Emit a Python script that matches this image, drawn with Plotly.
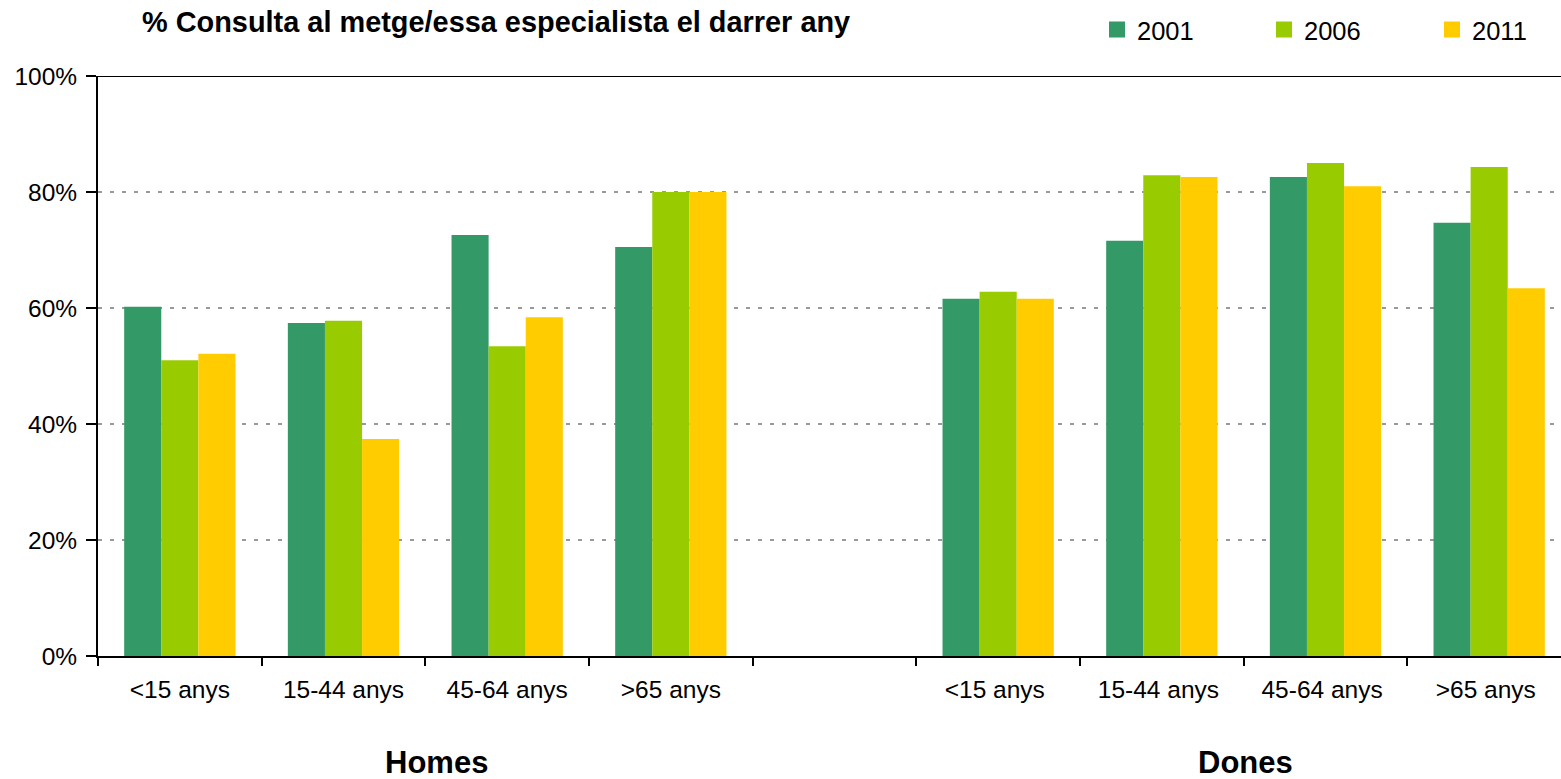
import plotly.graph_objects as go

categories = ["<15 anys", "15-44 anys", "45-64 anys", ">65 anys", " ",
              "<15 anys ", "15-44 anys ", "45-64 anys ", ">65 anys "]
years = ["2001", "2006", "2011"]
v2001 = [60.2, 57.4, 72.6, 70.5, None, 61.6, 71.6, 82.6, 74.7]
v2006 = [51.0, 57.8, 53.4, 80.0, None, 62.8, 82.9, 85.0, 84.3]
v2011 = [52.1, 37.4, 58.4, 80.0, None, 61.6, 82.6, 81.0, 63.4]
colors = ["#339966", "#99CC00", "#FFCC00"]
groups = ["Homes", "Dones"]
group_pos = [1.57, 6.51]
title = "% Consulta al metge/essa especialista el darrer any"
yticks = [0, 20, 40, 60, 80, 100]
yticktext = [f"{v}%" for v in yticks]

W = 1571
plot_w = W - 98
legend_names = ["legend", "legend2", "legend3"]
legend_px = [1097, 1264, 1432]

fig = go.Figure()
for name, vals, c in zip(years, [v2001, v2006, v2011], colors):
    fig.add_trace(go.Bar(x=categories, y=vals, name=name, marker_color=c,
                         marker_line_width=0, showlegend=False))
# legend entries with larger square symbols, one legend box per year
for name, c, lg in zip(years, colors, legend_names):
    fig.add_trace(go.Scatter(x=[None], y=[None], name=name, mode="markers",
                             marker=dict(symbol="square", size=17, color=c),
                             showlegend=True, legend=lg))

fig.update_layout(
    width=W, height=779,
    margin=dict(l=98, r=0, t=76, b=123),
    plot_bgcolor="white", paper_bgcolor="white",
    font=dict(family="Liberation Sans, Arial, sans-serif", size=24, color="black"),
    barmode="group", bargap=0.32, bargroupgap=0,
    showlegend=True,
)
for lg, px in zip(legend_names, legend_px):
    fig.update_layout({lg: dict(orientation="h", x=(px - 98) / plot_w, xanchor="left",
                                y=1 - 30 / 779, yanchor="middle", yref="container",
                                font=dict(size=25.5), itemwidth=30,
                                bgcolor="rgba(0,0,0,0)")})

fig.update_xaxes(type="category", categoryorder="array", categoryarray=categories,
                 range=[-0.5, 8.5], tickson="boundaries", ticks="outside",
                 ticklen=8, tickwidth=2, tickcolor="black",
                 showline=True, linecolor="black", linewidth=2,
                 showgrid=False, tickfont=dict(size=24.5),
                 ticklabelstandoff=11)
fig.update_yaxes(range=[0, 100], tickmode="array", tickvals=yticks,
                 ticktext=yticktext,
                 ticks="outside", ticklen=10, tickwidth=2, tickcolor="black",
                 showline=True, linecolor="black", linewidth=2,
                 showgrid=True, gridcolor="#999999", gridwidth=2,
                 griddash="4px,8px", zeroline=False, tickfont=dict(size=24.5),
                 ticklabelstandoff=4)

fig.add_shape(type="line", xref="paper", yref="y", x0=0, x1=1, y0=100, y1=100,
              line=dict(color="black", width=2))

fig.add_annotation(text="<b>" + title + "</b>", xref="paper", yref="paper",
                   x=(140 - 98) / plot_w, y=1, yshift=54, xanchor="left",
                   yanchor="middle", showarrow=False, font=dict(size=28.9))
for g, p in zip(groups, group_pos):
    fig.add_annotation(text="<b>" + g + "</b>", xref="x", yref="paper", x=p,
                       y=0, yshift=-106, yanchor="middle", showarrow=False,
                       font=dict(size=31))

fig.write_html("out.html", config={"displayModeBar": False},
               post_script="document.body.style.margin='0px';document.body.style.overflow='hidden';")
